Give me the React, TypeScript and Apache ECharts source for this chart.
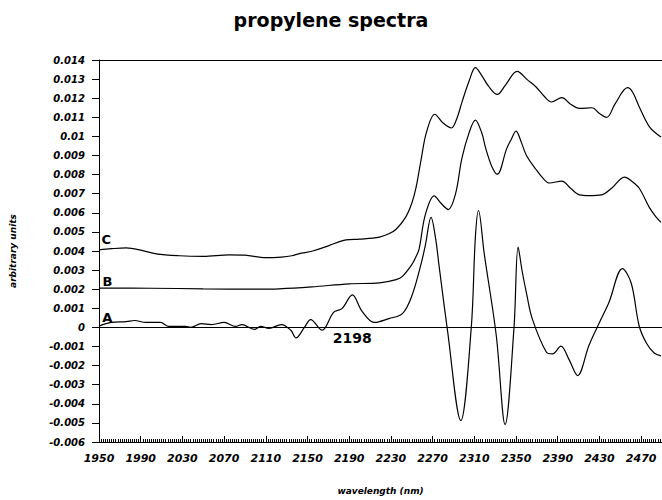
import React, { useEffect, useRef } from 'react';
import * as echarts from 'echarts';

const chartTitle = 'propylene spectra';
const xName = 'wavelength (nm)';
const yName = 'arbitrary units';

// Curve A (derivative-like spectrum)
const aNm = [1950, 1962, 1976, 1984, 1995, 2009, 2017, 2033, 2038, 2048, 2058, 2070, 2081, 2087, 2099, 2105, 2113, 2125, 2134, 2139, 2147, 2153, 2164, 2175, 2183, 2193, 2202, 2214, 2228, 2241, 2250, 2259, 2263, 2268.5, 2273, 2276, 2284, 2297, 2307, 2311, 2314, 2319.5, 2331, 2339.5, 2348, 2352, 2356, 2360, 2365.5, 2379, 2385, 2393, 2401, 2409, 2420, 2430, 2439, 2452, 2460.5, 2468, 2475, 2482.5, 2489];
const aVal = [0.00007, 0.00026, 0.0003, 0.00036, 0.00026, 0.00026, 0.00005, 0.00005, 0.0, 0.0002, 0.00015, 0.00026, 0.00005, 0.00015, -0.0001, 0.00005, -0.00005, 0.00015, -0.00015, -0.00055, 0.0, 0.00041, -0.00015, 0.00079, 0.00098, 0.0017, 0.00087, 0.00026, 0.00046, 0.00072, 0.00164, 0.00334, 0.0043, 0.00576, 0.0046, 0.0033, -0.00005, -0.00488, -0.00005, 0.00473, 0.00612, 0.00386, -0.00041, -0.00509, -0.00005, 0.0042, 0.0029, 0.0018, 0.00046, -0.00129, -0.00139, -0.00098, -0.0017, -0.00252, -0.00093, 0.00026, 0.00129, 0.00308, 0.00231, 0.0001, -0.00082, -0.00134, -0.00149];

// Curve B
const bNm = [1950, 2000, 2050, 2100, 2123, 2154, 2190, 2219, 2235, 2241, 2250, 2254, 2257, 2263, 2271.5, 2278, 2285, 2292, 2298, 2305, 2311, 2317, 2321, 2327, 2332, 2341, 2345, 2350, 2355, 2360, 2369, 2376, 2382, 2394, 2402, 2411, 2420, 2432, 2442, 2454, 2460, 2468, 2478, 2484, 2489];
const bVal = [0.00206, 0.00205, 0.00202, 0.002, 0.00202, 0.00212, 0.00228, 0.00233, 0.0025, 0.00267, 0.00329, 0.0037, 0.0041, 0.0059, 0.00689, 0.0065, 0.00617, 0.007, 0.00884, 0.0102, 0.01085, 0.0102, 0.00936, 0.0084, 0.00802, 0.00936, 0.0098, 0.01028, 0.0097, 0.009, 0.00828, 0.0078, 0.00756, 0.00766, 0.0073, 0.00694, 0.0069, 0.00694, 0.0073, 0.00787, 0.0077, 0.0073, 0.00627, 0.0058, 0.0055];

// Curve C
const cNm = [1950, 1962, 1976, 1990, 2005, 2027, 2050, 2075, 2090, 2110, 2125, 2135, 2142, 2155, 2170, 2187, 2200, 2219, 2228, 2235, 2244, 2250, 2254, 2259, 2264, 2272, 2280, 2288, 2293, 2298, 2305, 2311, 2317, 2324, 2332, 2340, 2351, 2361, 2369, 2377, 2384, 2394, 2402, 2411, 2423, 2430, 2437, 2445, 2457, 2462, 2468, 2478, 2489];
const cVal = [0.00406, 0.00412, 0.00416, 0.00405, 0.00385, 0.00375, 0.00372, 0.0038, 0.00378, 0.00365, 0.00368, 0.00375, 0.00386, 0.004, 0.00427, 0.00458, 0.00462, 0.00473, 0.0049, 0.00514, 0.00576, 0.0065, 0.0073, 0.0088, 0.0102, 0.01116, 0.0107, 0.01044, 0.0109, 0.01177, 0.0129, 0.0136, 0.0132, 0.0126, 0.0122, 0.0127, 0.0134, 0.01296, 0.0126, 0.0121, 0.0118, 0.01203, 0.0117, 0.01147, 0.0115, 0.0112, 0.011, 0.0117, 0.01255, 0.0123, 0.01157, 0.0105, 0.00997];

// Reference lines (zero line and top frame)
const refLines = [0, 0.014];

// Annotations
const noteNm = [1957, 1958, 1958, 2193];
const noteVal = [0.00458, 0.00242, 0.00051, -0.00057];
const noteText = ['C', 'B', 'A', '2198'];

const zip = (xs: number[], ys: number[]) => xs.map((x, i) => [x, ys[i]]);

export default function App() {
  const ref = useRef<HTMLDivElement>(null);
  useEffect(() => {
    if (!ref.current) return;
    const chart = echarts.init(ref.current, null, { renderer: 'svg' });
    const tickFont = {
      fontFamily: 'DejaVu Sans',
      fontStyle: 'italic' as const,
      fontWeight: 'bold' as const,
      color: '#000',
    };
    const lineSeries = (name: string, data: number[][], extra: any = {}) => ({
      name,
      type: 'line',
      data,
      smooth: 0.35,
      showSymbol: false,
      symbol: 'none',
      lineStyle: { color: '#000', width: 1.2 },
      silent: true,
      ...extra,
    });
    chart.setOption({
      animation: false,
      backgroundColor: '#fff',
      title: {
        text: chartTitle,
        left: 'center',
        top: 5,
        textStyle: { fontFamily: 'DejaVu Sans', fontWeight: 'bold', fontSize: 19, color: '#000' },
      },
      grid: { left: 98, right: 0, top: 60, bottom: 51 },
      xAxis: {
        type: 'value',
        min: 1950,
        max: 2490,
        interval: 40,
        name: xName,
        nameLocation: 'middle',
        nameGap: 44,
        nameTextStyle: { ...tickFont, fontSize: 9 },
        axisLine: { onZero: false, lineStyle: { color: '#000', width: 1 } },
        axisTick: { inside: true, length: 6, lineStyle: { color: '#000' } },
        minorTick: { show: true, splitNumber: 20, length: 3, lineStyle: { color: '#000' } },
        axisLabel: { ...tickFont, fontSize: 11, margin: 11, showMaxLabel: false, formatter: (v: number) => String(v) },
        splitLine: { show: false },
      },
      yAxis: {
        type: 'value',
        min: -0.006,
        max: 0.014,
        interval: 0.001,
        name: yName,
        nameLocation: 'middle',
        nameGap: 82,
        nameRotate: 90,
        nameTextStyle: { ...tickFont, fontSize: 9 },
        axisLine: { show: true, onZero: false, lineStyle: { color: '#000', width: 1 } },
        axisTick: { show: true, inside: false, length: 7, lineStyle: { color: '#000' } },
        axisLabel: { ...tickFont, fontSize: 10, margin: 14 },
        splitLine: { show: false },
      },
      series: [
        lineSeries('A', zip(aNm, aVal), {
          markLine: {
            silent: true,
            symbol: 'none',
            precision: 5,
            label: { show: false },
            lineStyle: { color: '#000', width: 1, type: 'solid' },
            data: refLines.map((v) => ({ yAxis: v })),
          },
        }),
        lineSeries('B', zip(bNm, bVal)),
        lineSeries('C', zip(cNm, cVal)),
        {
          name: 'notes',
          type: 'scatter',
          silent: true,
          symbolSize: 1,
          itemStyle: { color: 'rgba(0,0,0,0)' },
          data: noteNm.map((x, i) => ({
            value: [x, noteVal[i]],
            label: {
              show: true,
              position: 'inside',
              formatter: noteText[i],
              fontFamily: 'DejaVu Sans',
              fontWeight: 'bold',
              fontSize: noteText[i].length > 1 ? 14 : 13,
              color: '#000',
              textBorderWidth: 0,
              opacity: 1,
            },
          })),
        },
      ],
    });
    return () => chart.dispose();
  }, []);
  return <div ref={ref} style={{ position: 'fixed', left: 0, top: 0, width: 662, height: 500 }} />;
}
